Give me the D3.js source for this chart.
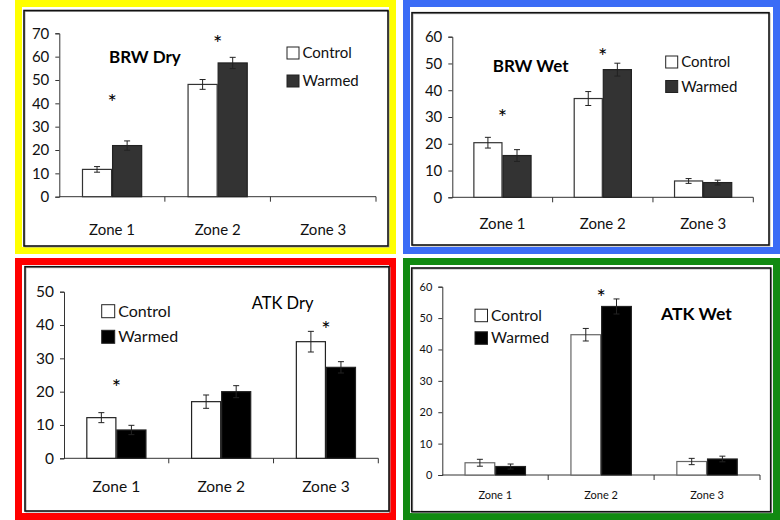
<!DOCTYPE html>
<html><head><meta charset="utf-8">
<script src="https://cdn.jsdelivr.net/npm/d3@7"></script>
<style>body{margin:0;background:#fff}svg{display:block}</style>
</head><body>
<script>
// ---- DATA ----
const zones = ["Zone 1", "Zone 2", "Zone 3"];
const seriesNames = ["Control", "Warmed"];

const brwDryControl = [11.7, 48.1, null];
const brwDryControlErr = [1.2, 2.1, null];
const brwDryWarmed = [21.9, 57.3, null];
const brwDryWarmedErr = [2.0, 2.4, null];
const brwDryStars = [42.3, 67.6, null];

const brwWetControl = [20.4, 36.9, 6.1];
const brwWetControlErr = [2.0, 2.6, 0.9];
const brwWetWarmed = [15.6, 47.7, 5.5];
const brwWetWarmedErr = [2.2, 2.4, 0.9];
const brwWetStars = [31.5, 54.3, null];

const atkDryControl = [12.2, 17.0, 35.0];
const atkDryControlErr = [1.5, 2.0, 3.1];
const atkDryWarmed = [8.5, 20.0, 27.3];
const atkDryWarmedErr = [1.4, 1.8, 1.7];
const atkDryStars = [22.6, null, 40.0];

const atkWetControl = [3.9, 44.7, 4.3];
const atkWetControlErr = [1.1, 2.0, 1.0];
const atkWetWarmed = [2.7, 53.7, 5.1];
const atkWetWarmedErr = [0.8, 2.4, 0.9];
const atkWetStars = [null, 57.9, null];

const yTicksBrwDry = [0, 10, 20, 30, 40, 50, 60, 70];
const yTicksBrwWet = [0, 10, 20, 30, 40, 50, 60];
const yTicksAtkDry = [0, 10, 20, 30, 40, 50];
const yTicksAtkWet = [0, 10, 20, 30, 40, 50, 60];

const panelTitles = ["BRW Dry", "BRW Wet", "ATK Dry", "ATK Wet"];

// ---- LAYOUT ----
const W = 780, H = 520;
const svg = d3.select("body").append("svg").attr("width", W).attr("height", H)
  .style("font-family", "Lato, 'Open Sans', sans-serif");

const panels = [
  { frame:[15,0,396,254], color:"#FFFF00", inner:[24,10.5,388,246],
    ctrl:brwDryControl, ctrlErr:brwDryControlErr, warm:brwDryWarmed, warmErr:brwDryWarmedErr, stars:brwDryStars,
    ticks:yTicksBrwDry, yMax:70, title:panelTitles[0], titleBold:true, titleX:109, titleY:63, titleSize:17,
    ax:{x0:59.3, x1:376, y0:196.7, y1:33.3}, warmFill:"#333333", ctrlStroke:"#333",
    tickFont:15, zoneFont:15, zoneY:235, legX:287, legY:[58,86], legFont:15, legBox:12, barFrac:0.285 },
  { frame:[403,0,780,254], color:"#3B6CF6", inner:[412,12.7,769,245],
    ctrl:brwWetControl, ctrlErr:brwWetControlErr, warm:brwWetWarmed, warmErr:brwWetWarmedErr, stars:brwWetStars,
    ticks:yTicksBrwWet, yMax:60, title:panelTitles[1], titleBold:true, titleX:492.7, titleY:72, titleSize:17,
    ax:{x0:452.3, x1:753.3, y0:197.3, y1:36.7}, warmFill:"#333333", ctrlStroke:"#333",
    tickFont:15, zoneFont:15, zoneY:229, legX:665.7, legY:[67,91.5], legFont:15, legBox:12, barFrac:0.29 },
  { frame:[15,258,396,520], color:"#FF0000", inner:[25,266.7,389,511],
    ctrl:atkDryControl, ctrlErr:atkDryControlErr, warm:atkDryWarmed, warmErr:atkDryWarmedErr, stars:atkDryStars,
    ticks:yTicksAtkDry, yMax:50, title:panelTitles[2], titleBold:false, titleX:251.7, titleY:309, titleSize:16.5,
    ax:{x0:64, x1:378.3, y0:458.3, y1:291.7}, warmFill:"#000000", ctrlStroke:"#222",
    tickFont:15.5, zoneFont:15.5, zoneY:492, legX:101.7, legY:[316.7,342.3], legFont:16, legBox:13, barFrac:0.287 },
  { frame:[403,258,780,520], color:"#118A11", inner:[411.7,268,770.7,511.7],
    ctrl:atkWetControl, ctrlErr:atkWetControlErr, warm:atkWetWarmed, warmErr:atkWetWarmedErr, stars:atkWetStars,
    ticks:yTicksAtkWet, yMax:60, title:panelTitles[3], titleBold:true, titleX:661, titleY:320, titleSize:17.5,
    ax:{x0:442.3, x1:760, y0:475, y1:286.7}, warmFill:"#000000", ctrlStroke:"#666",
    tickFont:11, zoneFont:11, zoneY:499, legX:475, legY:[320.7,343.3], legFont:15.5, legBox:12.5, barFrac:0.29 }
];

panels.forEach(p => {
  const [fx0, fy0, fx1, fy1] = p.frame;
  const t = 7;
  svg.append("rect").attr("x", fx0 + t/2).attr("y", fy0 + t/2)
    .attr("width", fx1 - fx0 - t).attr("height", fy1 - fy0 - t)
    .attr("fill", "#fff").attr("stroke", p.color).attr("stroke-width", t);
  const [ix0, iy0, ix1, iy1] = p.inner;
  svg.append("rect").attr("x", ix0 + 1).attr("y", iy0 + 1)
    .attr("width", ix1 - ix0).attr("height", iy1 - iy0)
    .attr("fill", "none").attr("stroke", "#aaa").attr("stroke-width", 1);
  svg.append("rect").attr("x", ix0).attr("y", iy0)
    .attr("width", ix1 - ix0).attr("height", iy1 - iy0)
    .attr("fill", "none").attr("stroke", "#111").attr("stroke-width", 1.6);

  const y = d3.scaleLinear().domain([0, p.yMax]).range([p.ax.y0, p.ax.y1]);
  const x = d3.scaleBand().domain(zones).range([p.ax.x0, p.ax.x1]).padding(0);
  const bw = x.bandwidth() * p.barFrac;

  const g = svg.append("g");

  // y axis
  const yAxis = g.append("g").attr("transform", `translate(${p.ax.x0},0)`)
    .call(d3.axisLeft(y).tickValues(p.ticks).tickSize(4).tickPadding(6).tickFormat(d3.format("d")));
  yAxis.selectAll("path,line").attr("stroke", "#333");
  yAxis.selectAll("text").attr("font-size", p.tickFont).attr("fill", "#111")
    .attr("font-family", "Lato, 'Open Sans', sans-serif");

  // x axis line & boundary ticks
  const bounds = zones.map(z => x(z)).concat([p.ax.x1]);
  g.append("line").attr("x1", p.ax.x0).attr("x2", p.ax.x1).attr("y1", p.ax.y0).attr("y2", p.ax.y0)
    .attr("stroke", "#333").attr("stroke-width", 1);
  g.selectAll(".bt").data(bounds.slice(1)).join("line")
    .attr("x1", d => d).attr("x2", d => d).attr("y1", p.ax.y0).attr("y2", p.ax.y0 + 5)
    .attr("stroke", "#333");
  g.selectAll(".zl").data(zones).join("text")
    .attr("x", d => x(d) + x.bandwidth()/2).attr("y", p.zoneY)
    .attr("text-anchor", "middle").attr("font-size", p.zoneFont).attr("fill", "#111")
    .text(d => d);

  const series = [
    { vals: p.ctrl, errs: p.ctrlErr, fill: "#fff", stroke: p.ctrlStroke, off: -bw },
    { vals: p.warm, errs: p.warmErr, fill: p.warmFill, stroke: "#222", off: 0 }
  ];
  series.forEach(s => {
    const data = zones.map((z, i) => ({ z, v: s.vals[i], e: s.errs[i] })).filter(d => d.v != null);
    g.selectAll(null).data(data).join("rect")
      .attr("x", d => x(d.z) + x.bandwidth()/2 + s.off + 0.5)
      .attr("y", d => y(d.v))
      .attr("width", bw - 1).attr("height", d => y(0) - y(d.v))
      .attr("fill", s.fill).attr("stroke", s.stroke).attr("stroke-width", 1.2);
  });
  series.forEach(s => {
    const data = zones.map((z, i) => ({ z, v: s.vals[i], e: s.errs[i] })).filter(d => d.v != null);
    const cx = d => x(d.z) + x.bandwidth()/2 + s.off + bw/2;
    const eg = g.selectAll(null).data(data).join("g");
    eg.append("line").attr("x1", cx).attr("x2", cx)
      .attr("y1", d => y(d.v + d.e)).attr("y2", d => y(d.v - d.e)).attr("stroke", "#222");
    [1, -1].forEach(sg => {
      eg.append("line").attr("x1", d => cx(d) - 3).attr("x2", d => cx(d) + 3)
        .attr("y1", d => y(d.v + sg*d.e)).attr("y2", d => y(d.v + sg*d.e)).attr("stroke", "#222");
    });
  });

  // asterisks
  const starData = zones.map((z, i) => ({ z, v: p.stars[i] })).filter(d => d.v != null);
  g.selectAll(null).data(starData).join("text")
    .attr("x", d => x(d.z) + x.bandwidth()/2).attr("y", d => y(d.v) + 12)
    .attr("text-anchor", "middle").attr("font-size", 22).attr("fill", "#000")
    .attr("font-family", "Lato, sans-serif")
    .text("*");

  // title
  g.append("text").attr("x", p.titleX).attr("y", p.titleY)
    .attr("font-size", p.titleSize).attr("font-weight", p.titleBold ? "bold" : "normal")
    .attr("fill", "#000").text(p.title);

  // legend
  const fills = ["#fff", p.warmFill];
  seriesNames.forEach((n, i) => {
    g.append("rect").attr("x", p.legX).attr("y", p.legY[i] - p.legBox + 1)
      .attr("width", p.legBox).attr("height", p.legBox)
      .attr("fill", fills[i]).attr("stroke", "#222").attr("stroke-width", 1);
    g.append("text").attr("x", p.legX + p.legBox + 3.5).attr("y", p.legY[i])
      .attr("font-size", p.legFont).attr("fill", "#111").text(n);
  });
});
</script>
</body></html>
